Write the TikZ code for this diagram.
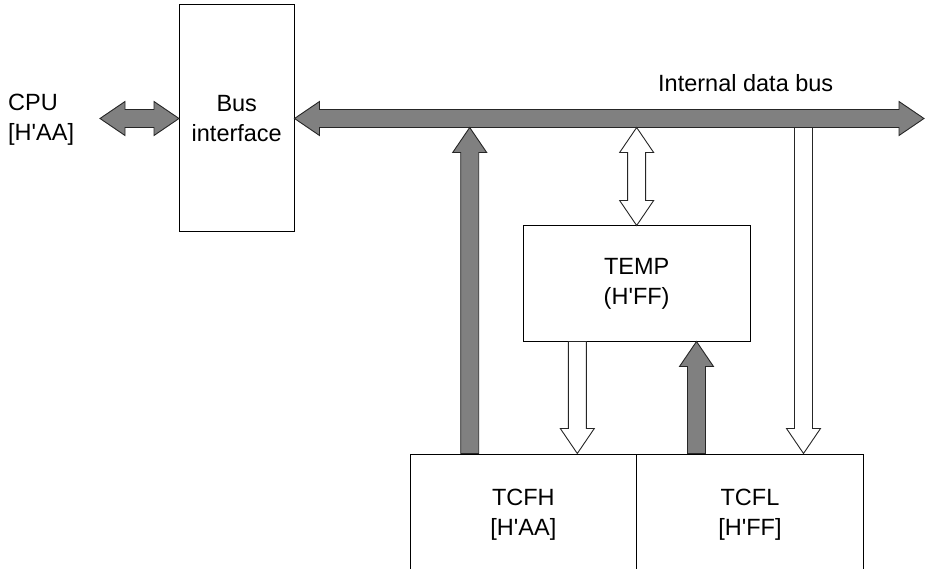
\documentclass[tikz,border=0pt]{standalone}
\usepackage{fontspec}
\newfontfamily\arialfont{Liberation Sans}
\usetikzlibrary{calc}
\definecolor{busgray}{HTML}{808080}
\tikzset{
  txt/.style={font=\arialfont\fontsize{23.5}{30}\selectfont},
  box/.style={draw=black, line width=1pt, fill=white, inner sep=0pt, align=center, txt},
  lbl/.style={inner sep=0pt, txt},
  grayarrow/.style={draw=black!85, line width=0.9pt, fill=busgray, line join=miter},
  whitearrow/.style={draw=black!85, line width=0.9pt, fill=white, line join=miter},
}
\newcommand{\blkone}[3]{%
  \coordinate (ba) at (#2);
  \coordinate (bb) at (#3);
  \coordinate (bh) at ($(bb)!25pt!(ba)$);
  \draw[#1] ($(ba)!9pt!90:(bb)$) -- ($(bh)!9pt!90:(bb)$) -- ($(bh)!17pt!90:(bb)$) -- (bb)
    -- ($(bh)!17pt!-90:(bb)$) -- ($(bh)!9pt!-90:(bb)$) -- ($(ba)!9pt!-90:(bb)$) -- cycle;
}
\newcommand{\blktwo}[3]{%
  \coordinate (ba) at (#2);
  \coordinate (bb) at (#3);
  \coordinate (bh) at ($(bb)!25pt!(ba)$);
  \coordinate (bt) at ($(ba)!25pt!(bb)$);
  \draw[#1] (ba) -- ($(bt)!17pt!90:(bb)$) -- ($(bt)!9pt!90:(bb)$) -- ($(bh)!9pt!90:(bb)$)
    -- ($(bh)!17pt!90:(bb)$) -- (bb) -- ($(bh)!17pt!-90:(bb)$) -- ($(bh)!9pt!-90:(bb)$)
    -- ($(bt)!9pt!-90:(bb)$) -- ($(bt)!17pt!-90:(bb)$) -- cycle;
}
\begin{document}
\begin{tikzpicture}[x=1pt, y=-1pt]
  \useasboundingbox (0,0) rectangle (929,569);
  \clip (0,0) rectangle (929,569);
  % boxes
  \node[box, minimum width=114.5pt, minimum height=227pt] (busif) at (236.75,118.5) {Bus\\interface};
  \node[box, minimum width=226.7pt, minimum height=115pt] (temp) at (636.65,283.5) {TEMP\\(H'FF)};
  \node[box, minimum width=226.7pt, minimum height=122pt] (tcfh) at (523.35,515) {TCFH\\{[H'AA]}};
  \node[box, minimum width=226.7pt, minimum height=122pt] (tcfl) at (750,515) {TCFL\\{[H'FF]}};
  % labels
  \node[lbl, anchor=north west, align=left] (cpu) at (8,93.5) {CPU\\{[H'AA]}};
  \node[lbl, anchor=base west] (buslbl) at (658,91.7) {Internal data bus};
  % coordinates
  \coordinate (cpuarr) at (100,118.5);
  \coordinate (busR) at (924,118.5);
  \coordinate (xa) at (469.7,127.5);
  \coordinate (xb) at (temp.north |- xa);
  \coordinate (xc) at (803.5,127.5);
  \coordinate (xd) at (577.3,0);
  \coordinate (xe) at (696.5,0);
  % arrows
  \blktwo{grayarrow}{cpuarr}{busif.west}
  \blktwo{grayarrow}{busif.east}{busR}
  \blkone{grayarrow}{tcfh.north -| xa}{xa}
  \blktwo{whitearrow}{xb}{temp.north}
  \blkone{whitearrow}{temp.south -| xd}{tcfh.north -| xd}
  \blkone{grayarrow}{tcfl.north -| xe}{temp.south -| xe}
  \blkone{whitearrow}{xc}{tcfl.north -| xc}
\end{tikzpicture}
\end{document}
